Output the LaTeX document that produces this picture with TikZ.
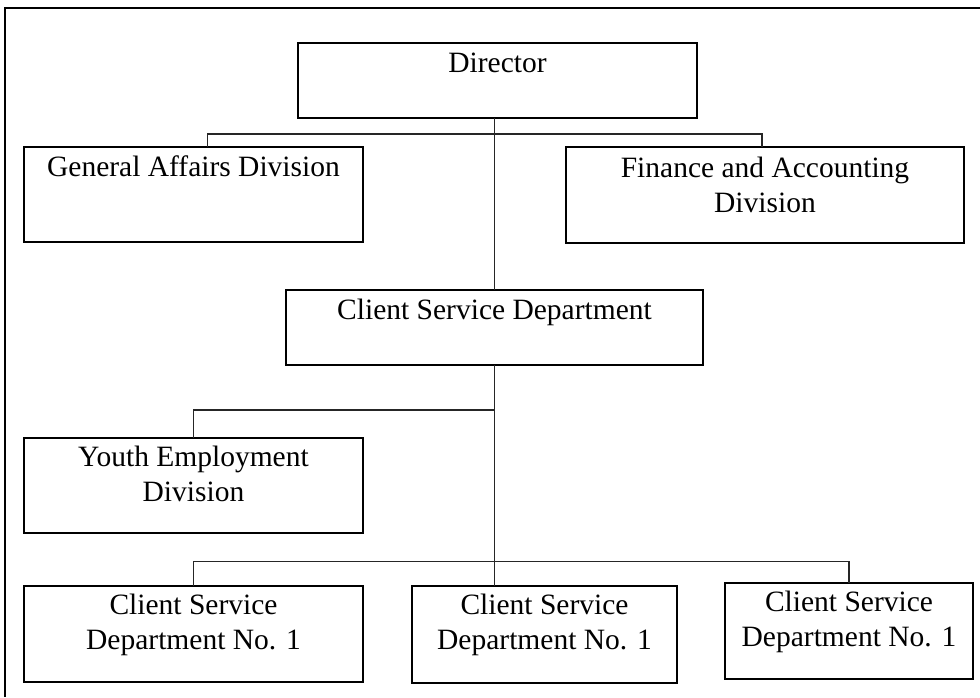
\documentclass[tikz,border=0pt]{standalone}
\usepackage{fontspec}
\setmainfont{Liberation Serif}
\usepackage{tikz}

\begin{document}
\begin{tikzpicture}[x=0.5pt,y=-0.5pt]
\tikzset{unit/.style={draw,line width=0.8pt,anchor=north west,inner sep=0pt,outer sep=0pt},
  unitname/.style={anchor=base,align=center,inner sep=0pt,font=\fontsize{14.75}{17.75}\selectfont},
  twoline/.style={unitname,yshift=-17.75pt},
  link/.style={line width=0.6pt,black!85}}
\useasboundingbox (0,0) rectangle (980,697);
\draw[line width=1pt] (980,8) -- (5,8) -- (5,697);

\node[unit,minimum width=199.5pt,minimum height=37.5pt] (director) at (298,43) {};
\node[unit,minimum width=169.5pt,minimum height=47.5pt] (genaff) at (24,147) {};
\node[unit,minimum width=199pt,minimum height=48pt] (finacc) at (566,147) {};
\node[unit,minimum width=208.5pt,minimum height=37.5pt] (clientsvc) at (286,290) {};
\node[unit,minimum width=169.5pt,minimum height=47.5pt] (youthemp) at (24,438) {};
\node[unit,minimum width=169.5pt,minimum height=48pt] (csdone) at (24,586) {};
\node[unit,minimum width=132.5pt,minimum height=48.5pt] (csdtwo) at (412,586) {};
\node[unit,minimum width=124pt,minimum height=48pt] (csdthree) at (725,583) {};

\node[unitname] (directorlbl) at ([yshift=-14.5pt]director.north) {Director};
\node[unitname] (genafflbl) at ([yshift=-14.5pt]genaff.north) {General Affairs Division};
\node[twoline] (finacclbl) at ([yshift=-15pt]finacc.north) {Finance and Accounting\\Division};
\node[unitname] (clientsvclbl) at ([yshift=-14.5pt]clientsvc.north) {Client Service Department};
\node[twoline] (youthemplbl) at ([yshift=-14pt]youthemp.north) {Youth Employment\\Division};
\node[twoline] (csdonelbl) at ([yshift=-14pt]csdone.north) {Client Service\\Department No. 1};
\node[twoline] (csdtwolbl) at ([yshift=-14pt]csdtwo.north) {Client Service\\Department No. 1};
\node[twoline] (csdthreelbl) at ([yshift=-14pt]csdthree.north) {Client Service\\Department No. 1};

\draw[link] (clientsvc.north |- director.south) -- (clientsvc.north);
\draw[link] ([xshift=7pt]genaff.north) -- ++(0,-13) -| ([xshift=-1.5pt]finacc.north);
\draw[link] (clientsvc.south) -- (clientsvc.south |- csdtwo.north);
\draw[link] (youthemp.north) -- ++(0,-28) coordinate (ybranch) -- (ybranch -| clientsvc.south);
\draw[link] (csdone.north) -- ++(0,-24.5) coordinate (lowbranch) -- (lowbranch -| csdthree.north) -- (csdthree.north);

\end{tikzpicture}
\end{document}
